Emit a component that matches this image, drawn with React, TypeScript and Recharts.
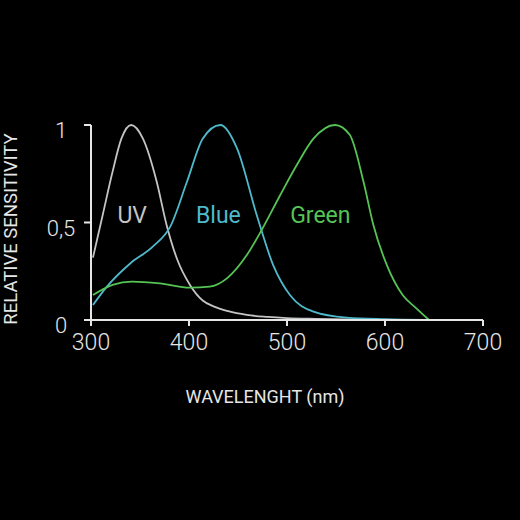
import { LineChart, Line, XAxis, YAxis, ReferenceDot, Label } from 'recharts'

// wavelength (nm) / relative sensitivity
const uvNm = [302, 312, 322, 331, 341, 353, 367, 377, 388, 401, 414, 425, 440, 459, 480, 500, 530, 560, 600]
const uvVal = [0.32, 0.54, 0.76, 0.93, 1.0, 0.93, 0.71, 0.49, 0.31, 0.18, 0.1, 0.07, 0.045, 0.026, 0.016, 0.01, 0.006, 0.003, 0.0]

const blueNm = [302, 316, 340, 363, 381, 398, 414, 432, 449, 469, 486, 503, 527, 561, 600, 640]
const blueVal = [0.077, 0.17, 0.29, 0.376, 0.48, 0.71, 0.93, 1.0, 0.88, 0.54, 0.28, 0.128, 0.043, 0.012, 0.004, 0]

const greenNm = [302, 322, 342, 370, 401, 421, 439, 459, 474, 493, 510, 527, 549, 564, 578, 588, 602, 618, 632, 645]
const greenVal = [0.128, 0.18, 0.197, 0.188, 0.166, 0.171, 0.215, 0.333, 0.46, 0.64, 0.795, 0.93, 1.0, 0.95, 0.71, 0.49, 0.28, 0.128, 0.06, 0.0]

const xTicks = [300, 400, 500, 600, 700]
const yTicks = [0, 0.5, 1]

const toPoints = (nm: number[], val: number[]) => nm.map((x, i) => ({ nm: x, v: val[i] }))

const uv = toPoints(uvNm, uvVal)
const blue = toPoints(blueNm, blueVal)
const green = toPoints(greenNm, greenVal)

const FONT = 'Roboto, "Noto Sans", sans-serif'
const AXIS = '#e6e6e6'
const UV_C = '#c4c4c4'
const BLUE_C = '#4fb9cc'
const GREEN_C = '#55c455'

function YTick(props: any) {
  const { y, payload } = props
  return (
    <text x={61} y={y + 13} textAnchor="middle" fill={AXIS} fontSize={22} fontWeight={300} fontFamily={FONT}>
      {String(payload.value).replace('.', ',')}
    </text>
  )
}

export default function App() {
  return (
    <div style={{ position: 'fixed', top: 0, left: 0, width: 520, height: 520, background: '#000' }}>
      <LineChart width={520} height={520} margin={{ top: 125, right: 37, left: 41, bottom: 170 }}>
        <XAxis
          type="number"
          dataKey="nm"
          domain={[300, 700]}
          ticks={xTicks}
          allowDataOverflow
          stroke={AXIS}
          strokeWidth={2}
          tickSize={6}
          height={30}
          tick={{ fill: AXIS, fontSize: 23, fontWeight: 300, fontFamily: FONT, dy: 6 }}
        >
          <Label value="WAVELENGHT (nm)" position="bottom" offset={40} dx={-22} fill={AXIS} fontSize={18} fontFamily={FONT} />
        </XAxis>
        <YAxis
          type="number"
          domain={[0, 1]}
          ticks={yTicks}
          width={50}
          stroke={AXIS}
          strokeWidth={2}
          tickSize={7}
          tick={<YTick />}
        />
        <Line data={uv} dataKey="v" type="monotone" stroke={UV_C} strokeWidth={1.8} dot={false} isAnimationActive={false} />
        <Line data={blue} dataKey="v" type="monotone" stroke={BLUE_C} strokeWidth={1.8} dot={false} isAnimationActive={false} />
        <Line data={green} dataKey="v" type="monotone" stroke={GREEN_C} strokeWidth={1.8} dot={false} isAnimationActive={false} />
        <ReferenceDot x={342} y={0.54} r={0} stroke="none" fill="none">
          <Label value="UV" position="center" fill={UV_C} fontSize={23} fontFamily={FONT} />
        </ReferenceDot>
        <ReferenceDot x={430} y={0.54} r={0} stroke="none" fill="none">
          <Label value="Blue" position="center" fill={BLUE_C} fontSize={23} fontFamily={FONT} />
        </ReferenceDot>
        <ReferenceDot x={534} y={0.54} r={0} stroke="none" fill="none">
          <Label value="Green" position="center" fill={GREEN_C} fontSize={23} fontFamily={FONT} />
        </ReferenceDot>
      </LineChart>
      <div
        style={{
          position: 'absolute',
          left: 11,
          top: 229,
          transform: 'translate(-50%, -50%) rotate(-90deg)',
          whiteSpace: 'nowrap',
          color: AXIS,
          fontSize: 18.5,
          fontFamily: FONT,
        }}
      >
        RELATIVE SENSITIVITY
      </div>
    </div>
  )
}
